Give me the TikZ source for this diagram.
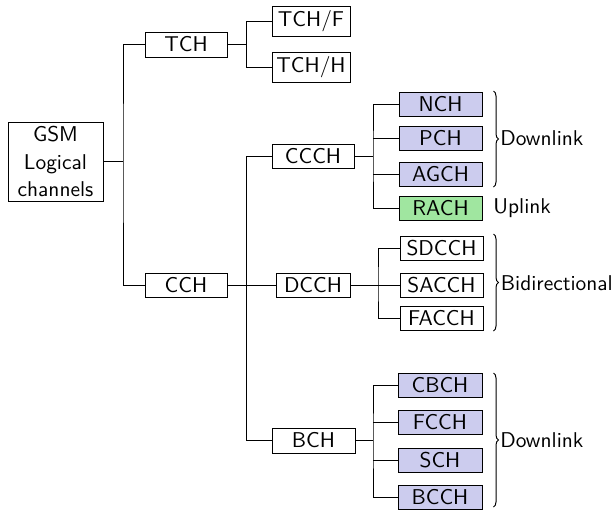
\documentclass[tikz,border=0pt]{standalone}
\usetikzlibrary{decorations.pathreplacing}
\definecolor{bfill}{RGB}{204,204,238}
\definecolor{gfill}{RGB}{160,230,160}
\begin{document}
\begin{tikzpicture}[x=0.5pt,y=-0.5pt,
  every node/.style={font=\sffamily\fontsize{10.7}{13.8}\selectfont},
  box/.style={draw, line width=0.5pt, inner sep=0pt, minimum height=12pt, align=center},
  blue box/.style={box, fill=bfill},
  green box/.style={box, fill=gfill},
  link/.style={line width=0.5pt},
  brc/.style={line width=0.5pt, decorate, decoration={brace, amplitude=2.5pt}},
  lab/.style={anchor=west, inner sep=0pt}]
\useasboundingbox (0,0) rectangle (612,510);
% level 0 and 1
\node[box, minimum width=47.5pt, minimum height=39.5pt] (gsm) at (55.5,161.5) {GSM\\Logical\\channels};
\node[box, minimum width=41pt, minimum height=12.5pt] (tch) at (186,44.5) {TCH};
\node[box, minimum width=41pt] (cch) at (186,285) {CCH};
% TCH children
\node[box, minimum width=39pt, minimum height=15pt] (tchf) at (311,21) {TCH/F};
\node[box, minimum width=39pt, minimum height=15pt] (tchh) at (311,67) {TCH/H};
% CCH children
\node[box, minimum width=41pt] (ccch) at (313,156) {CCCH};
\node[box, minimum width=37pt] (dcch) at (313,285) {DCCH};
\node[box, minimum width=41.5pt, minimum height=12.5pt] (bch) at (313.5,440.5) {BCH};
% CCCH children
\node[blue box, minimum width=41.5pt] (nch) at (440.5,104) {NCH};
\node[blue box, minimum width=41.5pt] (pch) at (440.5,138) {PCH};
\node[blue box, minimum width=41.5pt] (agch) at (440.5,174.5) {AGCH};
\node[green box, minimum width=41.5pt] (rach) at (440.5,208) {RACH};
% DCCH children
\node[box, minimum width=41.5pt] (sdcch) at (441.5,248.5) {SDCCH};
\node[box, minimum width=41.5pt] (sacch) at (441.5,285) {SACCH};
\node[box, minimum width=41.5pt] (facch) at (441.5,318.5) {FACCH};
% BCH children
\node[blue box, minimum width=42pt] (cbch) at (440,385) {CBCH};
\node[blue box, minimum width=42pt] (fcch) at (440,422) {FCCH};
\node[blue box, minimum width=42pt] (sch) at (440,460) {SCH};
\node[blue box, minimum width=42pt] (bcch) at (440,497) {BCCH};
% junctions
\coordinate (j0) at (123,161.5);
\coordinate (j1) at (246.5,44.5);
\coordinate (j2) at (246.5,285);
\coordinate (j3) at (373,156);
\coordinate (j4) at (378,285);
\coordinate (j5) at (373,440.5);
% connectors
\draw[link] (gsm.east) -- (j0);
\draw[link] (tch.west) -| (j0) |- (cch.west);
\draw[link] (tch.east) -- (j1);
\draw[link] (tchf.west) -| (j1) |- (tchh.west);
\draw[link] (cch.east) -- (dcch.west);
\draw[link] (ccch.west) -| (j2) |- (bch.west);
\draw[link] (ccch.east) -- (j3);
\draw[link] (nch.west) -| (j3) |- (rach.west);
\draw[link] (pch.west) -- (pch.west -| j3);
\draw[link] (agch.west) -- (agch.west -| j3);
\draw[link] (dcch.east) -- (sacch.west);
\draw[link] (sdcch.west) -| (j4) |- (facch.west);
\draw[link] (bch.east) -- (j5);
\draw[link] (cbch.west) -| (j5) |- (bcch.west);
\draw[link] (fcch.west) -- (fcch.west -| j5);
\draw[link] (sch.west) -- (sch.west -| j5);
% braces
\coordinate (b1t) at (493.5,91);
\coordinate (b1b) at (493.5,187);
\coordinate (b2t) at (493.5,234);
\coordinate (b2b) at (493.5,331);
\coordinate (b3t) at (493.5,373);
\coordinate (b3b) at (493.5,507);
\draw[brc] (b1t) -- (b1b);
\draw[brc] (b2t) -- (b2b);
\draw[brc] (b3t) -- (b3b);
\node[lab] (dl1) at (500,138) {Downlink};
\node[lab] (ul) at (493,208) {Uplink};
\node[lab] (bd) at (500.5,283) {Bidirectional};
\node[lab] (dl2) at (500,440) {Downlink};
\end{tikzpicture}
\end{document}
